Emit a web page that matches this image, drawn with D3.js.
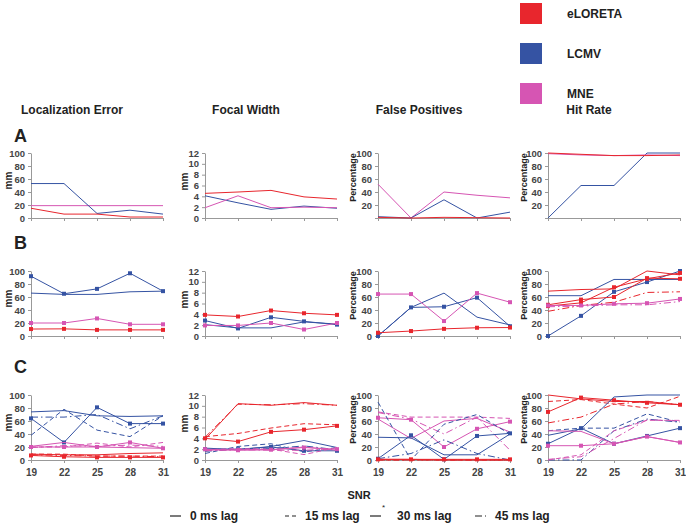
<!DOCTYPE html>
<html>
<head>
<meta charset="utf-8">
<script src="https://cdn.jsdelivr.net/npm/d3@7"></script>
<style>
  body { margin: 0; background: #fff; font-family: "Liberation Sans", Arial, sans-serif; }
  .tick text { font-size: 9.5px; font-weight: bold; fill: #444; }
  .axis path, .axis line { stroke: #999; }
</style>
</head>
<body>
<script>
const snr = [19, 22, 25, 28, 31];
const measures = ["Localization Error", "Focal Width", "False Positives", "Hit Rate"];
const yMax = [100, 12, 100, 100];
const yUnits = ["mm", "mm", "Percentage", "Percentage"];
const rowNames = ["A", "B", "C"];
const methodNames = ["eLORETA", "LCMV", "MNE"];
const methodColors = ["#e8262d", "#3553a3", "#d655b3"];
const lagNames = ["0 ms lag", "15 ms lag", "30 ms lag", "45 ms lag"];

// series: [method, lag, values at each SNR]
const rowA_locErr = [
  [2, 0, [19, 19, 19, 19, 19]],
  [1, 0, [53, 53, 7, 12, 6]],
  [0, 0, [15, 6, 6, 1.5, 1.5]]
];
const rowA_focal = [
  [1, 0, [4.1, 2.8, 1.6, 2.2, 1.8]],
  [2, 0, [1.9, 4.1, 1.9, 2.0, 1.9]],
  [0, 0, [4.55, 4.8, 5.1, 3.9, 3.5]]
];
const rowA_falsePos = [
  [2, 0, [52, 0, 40, 35, 31]],
  [1, 0, [2, 0, 28, 0, 9]],
  [0, 0, [1, 0, 1, 0.5, 0]]
];
const rowA_hit = [
  [1, 0, [0, 50, 50, 100, 100]],
  [2, 0, [99, 97, 96, 97, 96]],
  [0, 0, [100, 98, 96, 96, 97]]
];

const rowB_locErr = [
  [1, 0, [66, 64, 64, 68, 69]],
  [1, 2, [92, 65, 72.5, 96.5, 69]],
  [2, 2, [20, 20, 27, 18, 18]],
  [0, 2, [10.7, 11, 9.4, 9.4, 9.4]]
];
const rowB_focal = [
  [1, 0, [2.1, 1.5, 1.5, 2.6, 2.2]],
  [1, 2, [2.85, 1.4, 3.45, 2.7, 2.1]],
  [2, 2, [1.95, 1.95, 2.4, 1.2, 2.4]],
  [0, 2, [3.9, 3.6, 4.7, 4.2, 3.9]]
];
const rowB_falsePos = [
  [1, 0, [0, 44, 66, 29, 17]],
  [1, 2, [0, 44, 45, 59, 15]],
  [2, 2, [64.5, 64.5, 23, 66, 52]],
  [0, 2, [5, 7.6, 11, 12.7, 13]]
];
const rowB_hit = [
  [1, 0, [62, 62, 87, 87, 87]],
  [1, 2, [0, 31, 68, 83, 100]],
  [0, 0, [69, 71.5, 72.5, 100, 94]],
  [0, 2, [48, 56, 60, 89, 88]],
  [0, 2, [46, 51, 75, 88, 97]],
  [0, 3, [38, 47, 52, 67, 68]],
  [2, 2, [47, 47, 49.5, 50.5, 57]],
  [2, 3, [45, 46, 48, 48, 53]]
];

const rowC_locErr = [
  [1, 0, [74, 76, 68, 67, 68]],
  [1, 1, [38, 78, 46, 36, 68]],
  [1, 2, [64, 27, 81, 56, 56]],
  [1, 3, [66, 66, 70, 48, 68]],
  [2, 0, [21, 27, 20, 19, 18]],
  [2, 1, [20, 20, 26, 20, 27]],
  [2, 2, [20, 20, 20, 27, 18]],
  [2, 3, [19, 22, 21, 23, 21]],
  [0, 0, [9, 8, 8, 10, 11]],
  [0, 1, [9, 9, 6, 6, 6]],
  [0, 2, [7, 5, 4, 4, 4]],
  [0, 3, [8, 7, 6, 6, 5]]
];
const rowC_focal = [
  [0, 0, [3.8, 10.4, 10.1, 10.6, 10.1]],
  [0, 1, [4.3, 4.9, 5.9, 6.7, 6.5]],
  [0, 2, [4.0, 3.4, 5.2, 5.6, 6.3]],
  [0, 3, [4.2, 10.3, 10.2, 10.4, 10.1]],
  [1, 0, [2.2, 1.9, 2.5, 3.6, 2.3]],
  [1, 1, [1.2, 2.5, 3.0, 1.5, 2.3]],
  [1, 2, [2.0, 2.0, 2.4, 1.7, 1.7]],
  [1, 3, [1.6, 2.0, 2.1, 2.6, 1.9]],
  [2, 0, [1.8, 1.9, 1.9, 2.4, 1.8]],
  [2, 1, [1.9, 2.1, 2.0, 1.0, 2.3]],
  [2, 2, [2.0, 1.8, 1.9, 2.3, 2.0]],
  [2, 3, [1.7, 1.9, 1.8, 1.8, 2.1]]
];
const rowC_falsePos = [
  [2, 0, [63, 33, 60, 64, 43]],
  [2, 1, [74, 66, 66, 66, 64]],
  [2, 2, [65, 62, 20, 48, 59]],
  [2, 3, [73, 63, 40, 66, 15]],
  [1, 0, [35, 34, 8, 8, 40]],
  [1, 1, [89, 0, 55, 70, 40]],
  [1, 2, [2, 38, 1, 37, 41]],
  [1, 3, [2, 10, 31, 10, 0]],
  [0, 0, [1, 1, 0, 0, 0]],
  [0, 1, [0, 0, 0, 0, 0]],
  [0, 2, [1, 1, 1, 1, 1]],
  [0, 3, [0, 0, 0, 0, 0]]
];
const rowC_hit = [
  [0, 0, [100, 94, 90, 90, 85]],
  [0, 1, [90, 93, 86, 80, 98]],
  [0, 2, [74, 96, 92, 88, 85]],
  [0, 3, [57, 66, 86, 90, 85]],
  [1, 0, [38, 48, 97, 100, 100]],
  [1, 1, [45, 49, 49, 71, 58]],
  [1, 2, [25, 49, 25, 37, 49]],
  [1, 3, [0, 0, 45, 63, 58]],
  [2, 0, [45, 44, 25, 36, 27]],
  [2, 1, [0, 8, 45, 61, 61]],
  [2, 2, [22, 22, 25, 36, 27]],
  [2, 3, [1, 5, 33, 62, 60]]
];

const panels = [
  [rowA_locErr, rowA_focal, rowA_falsePos, rowA_hit],
  [rowB_locErr, rowB_focal, rowB_falsePos, rowB_hit],
  [rowC_locErr, rowC_focal, rowC_falsePos, rowC_hit]
];

const W = 686, H = 525;
const colX = [31, 205, 378, 548];
const unitOffset = [-19, -17, -22, -21];
const unitShift = [-5, -4, -8, -8];
const rowBottom = [218, 336, 460];
const letterY = [142, 249, 373];
const pw = 132, ph = 65;
const lagDash = [null, "5,3", null, "7,3,1.5,3"];

const svg = d3.select("body").append("svg")
    .attr("width", W).attr("height", H);

// method legend (top right)
methodNames.forEach((m, i) => {
  svg.append("rect")
      .attr("x", 520).attr("y", 3 + i * 40)
      .attr("width", 22).attr("height", 21)
      .attr("fill", methodColors[i]);
  svg.append("text")
      .attr("x", 567).attr("y", 18 + i * 40)
      .attr("font-size", 12).attr("font-weight", "bold").attr("fill", "#222")
      .text(m);
});

// column headers
measures.forEach((m, j) => {
  svg.append("text")
      .attr("x", colX[j] + pw / 2 - 25).attr("y", 114)
      .attr("text-anchor", "middle")
      .attr("font-size", 12).attr("font-weight", "bold").attr("fill", "#222")
      .text(m);
});

const x = d3.scaleLinear().domain([19, 31]).range([0, pw]);

panels.forEach((row, r) => {
  svg.append("text")
      .attr("x", 14).attr("y", letterY[r])
      .attr("font-size", 18).attr("font-weight", "bold").attr("fill", "#222")
      .text(rowNames[r]);

  row.forEach((series, c) => {
    const g = svg.append("g")
        .attr("transform", `translate(${colX[c]},${rowBottom[r] - ph})`);
    const y = d3.scaleLinear().domain([0, yMax[c]]).range([ph, 0]);

    let ticks = yMax[c] === 12 ? d3.range(0, 13, 2) : d3.range(0, 101, 20);
    const yAxis = d3.axisLeft(y).tickValues(ticks).tickSize(3).tickSizeOuter(0);
    if (r === 0 && c >= 2) yAxis.tickFormat(d => d === 0 ? "" : d);
    g.append("g").attr("class", "axis").call(yAxis)
        .call(a => a.select(".domain").attr("stroke", "#999"));

    const xAxis = d3.axisBottom(x).tickValues(snr).tickSize(3).tickSizeOuter(0);
    if (r < 2) xAxis.tickFormat("");
    g.append("g").attr("class", "axis")
        .attr("transform", `translate(0,${ph})`)
        .call(xAxis)
        .call(a => a.selectAll(".tick text").attr("dy", "0.95em").style("font-size", "10px"));

    g.append("text")
        .attr("transform", `translate(${unitOffset[c]},${ph / 2 + unitShift[c]}) rotate(-90)`)
        .attr("text-anchor", "middle")
        .attr("font-size", c >= 2 ? 9 : 10).attr("font-weight", "bold").attr("fill", "#222")
        .text(yUnits[c]);

    const line = d3.line().x((d, i) => x(snr[i])).y(d => y(d));
    series.forEach(([m, lag, vals]) => {
      g.append("path")
          .attr("d", line(vals))
          .attr("fill", "none")
          .attr("stroke", methodColors[m])
          .attr("stroke-width", 1)
          .attr("stroke-dasharray", lagDash[lag]);
      if (lag === 2) {
        g.selectAll(null).data(vals).enter().append("rect")
            .attr("x", (d, i) => x(snr[i]) - 2)
            .attr("y", d => y(d) - 2)
            .attr("width", 4).attr("height", 4)
            .attr("fill", methodColors[m]);
      }
    });
  });
});

// x label
svg.append("text")
    .attr("x", 359).attr("y", 499)
    .attr("text-anchor", "middle")
    .attr("font-size", 11).attr("font-weight", "bold").attr("fill", "#222")
    .text("SNR");

// lag legend (bottom)
const lagX = [170, 285, 370, 475];
lagNames.forEach((l, i) => {
  const lg = svg.append("g").attr("transform", `translate(${lagX[i]},516)`);
  lg.append("line")
      .attr("x1", 0).attr("x2", 11)
      .attr("stroke", "#222").attr("stroke-width", 1.2)
      .attr("stroke-dasharray", i === 1 ? "4,3" : i === 3 ? "7,3,1.5,3" : null);
  if (i === 2) {
    lg.append("text").attr("x", 12).attr("y", -6)
        .attr("font-size", 8).attr("fill", "#222").text("*");
  }
  lg.append("text")
      .attr("x", i === 2 ? 27 : 20).attr("y", 4)
      .attr("font-size", 12).attr("font-weight", "bold").attr("fill", "#222")
      .text(l);
});
</script>
</body>
</html>
